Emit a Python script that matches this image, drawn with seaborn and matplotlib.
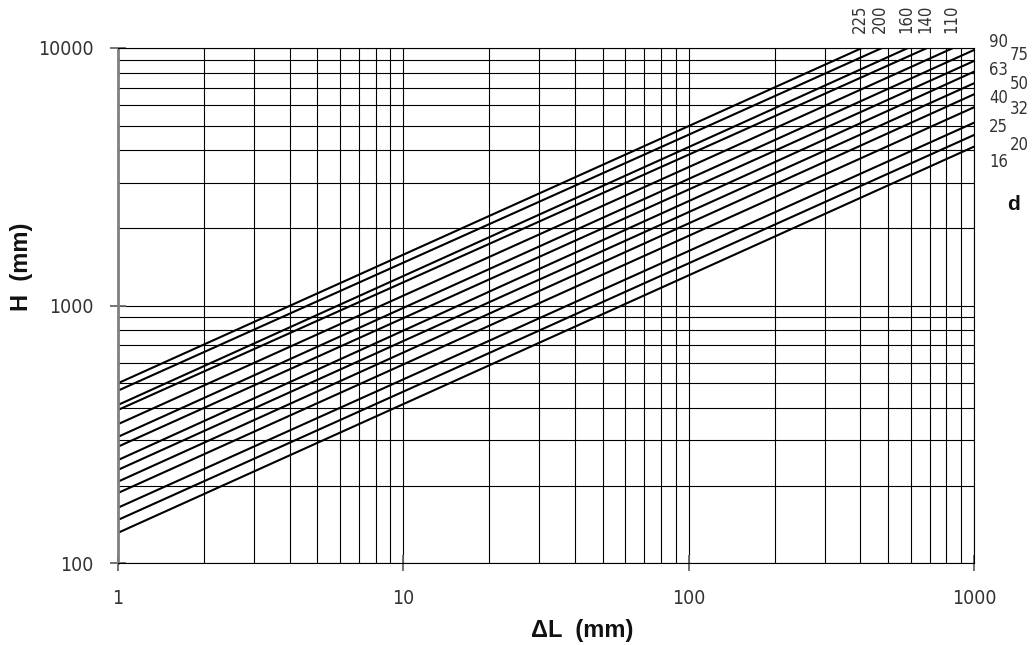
import matplotlib
matplotlib.use("Agg")
import matplotlib.pyplot as plt
from matplotlib import font_manager
import seaborn as sns
import pandas as pd

# ---- data ----
d_values = [225, 200, 160, 140, 110, 90, 75, 63, 50, 40, 32, 25, 20, 16]
dl_start = [1, 1, 1, 1, 1, 1, 1, 1, 1, 1, 1, 1, 1, 1]
h_start = [499, 467, 411, 393, 346, 309, 283, 251, 230, 207, 187, 164, 147, 131]
dl_end = [405, 476, 587, 685, 845, 1000, 1000, 1000, 1000, 1000, 1000, 1000, 1000, 1000]
h_end = [10000, 10000, 10000, 10000, 10000, 9822, 8903, 8091, 7295, 6610, 5885, 5127, 4593, 4140]

x_ticks = [1, 10, 100, 1000]
x_tick_labels = ["1", "10", "100", "1000"]
y_ticks = [100, 1000, 10000]
y_tick_labels = ["100", "1000", "10000"]

rows = []
for d, x0, y0, x1, y1 in zip(d_values, dl_start, h_start, dl_end, h_end):
    rows.append({"d": str(d), "dL": x0, "H": y0})
    rows.append({"d": str(d), "dL": x1, "H": y1})
df = pd.DataFrame(rows)

sns.set_theme(style="white")
plt.rcParams["font.family"] = ["Liberation Sans", "DejaVu Sans"]

# pick a narrow font for the numbers if one is installed
available = {f.name for f in font_manager.fontManager.ttflist}
narrow_family = None
narrow_stretch = "normal"
for cand in ["Liberation Sans Narrow", "DejaVu Sans Condensed"]:
    if cand in available:
        narrow_family = cand
        break
if narrow_family is None:
    cond = [f for f in font_manager.fontManager.ttflist
            if "DejaVu Sans" == f.name and str(f.stretch) in ("condensed", "semi-condensed", "500", "300")]
    if cond:
        narrow_family = "DejaVu Sans"
        narrow_stretch = "condensed"
if narrow_family is None:
    narrow_family = "Roboto"
    num_scale = 0.92
else:
    num_scale = 1.0
narrow = [narrow_family, "DejaVu Sans"]

fig = plt.figure(figsize=(10.32, 6.45), dpi=100)
ax = fig.add_axes([0.1143, 0.1271, 0.8295, 0.7985])

hue_order = [str(d) for d in d_values]
sns.lineplot(data=df, x="dL", y="H", hue="d", hue_order=hue_order,
             palette=["black"] * len(hue_order), estimator=None, sort=False,
             legend=False, linewidth=1.5, ax=ax, zorder=3)

ax.set_xscale("log")
ax.set_yscale("log")
ax.set_xlim(1, 1000)
ax.set_ylim(100, 10000)

ax.grid(True, which="both", color="black", linewidth=0.8, zorder=1)
ax.set_xticks(x_ticks)
ax.set_xticklabels(x_tick_labels)
ax.set_yticks(y_ticks)
ax.set_yticklabels(y_tick_labels)
ax.tick_params(which="minor", length=0, bottom=False, left=False)
ax.tick_params(axis="both", which="major", direction="inout", length=11,
               width=1.3, color="#666666", labelcolor="#333333",
               labelsize=14 * num_scale, bottom=True, left=True)
ax.tick_params(axis="x", pad=13)
ax.tick_params(axis="y", pad=12)
for lab in ax.get_xticklabels() + ax.get_yticklabels():
    lab.set_family(narrow)
    lab.set_stretch(narrow_stretch)

for side in ["top", "right", "bottom"]:
    ax.spines[side].set_color("black")
    ax.spines[side].set_linewidth(0.8)
ax.spines["left"].set_color("#808080")
ax.spines["left"].set_linewidth(2)
for s in ax.spines.values():
    s.set_zorder(4)

ax.set_xlabel("\u0394L  (mm)", fontsize=17, fontweight="bold", color="#111111")
ax.set_ylabel("H  (mm)", fontsize=17, fontweight="bold", color="#111111")
ax.xaxis.set_label_coords(0.542, -0.108)
ax.yaxis.set_label_coords(-0.099, 0.575)

# labels for lines ending at the top edge
for d, x1, y1 in zip(d_values, dl_end, h_end):
    if y1 >= 10000:
        ax.annotate(str(d), (x1, y1), xytext=(-2, 15), textcoords="offset pixels",
                    rotation=90, ha="center", va="bottom", fontsize=12 * num_scale,
                    color="#333333", family=narrow, stretch=narrow_stretch,
                    annotation_clip=False)

# labels for lines ending at the right edge
right_offsets = {90: (15, 8), 75: (36, 6), 63: (15, 2), 50: (36, -1), 40: (15, -4),
                 32: (36, -2), 25: (15, -4), 20: (36, -10), 16: (15, -15)}
for d, x1, y1 in zip(d_values, dl_end, h_end):
    if d in right_offsets:
        dx, dy = right_offsets[d]
        ax.annotate(str(d), (x1, y1), xytext=(dx, dy), textcoords="offset pixels",
                    ha="left", va="center", fontsize=12 * num_scale, color="#333333",
                    family=narrow, stretch=narrow_stretch, annotation_clip=False)

fig.text(1013 / 1032, 1 - 205 / 645, "d", ha="center", va="center",
         fontsize=15, fontweight="bold", color="#111111")

fig.savefig("out.png", dpi=100)
